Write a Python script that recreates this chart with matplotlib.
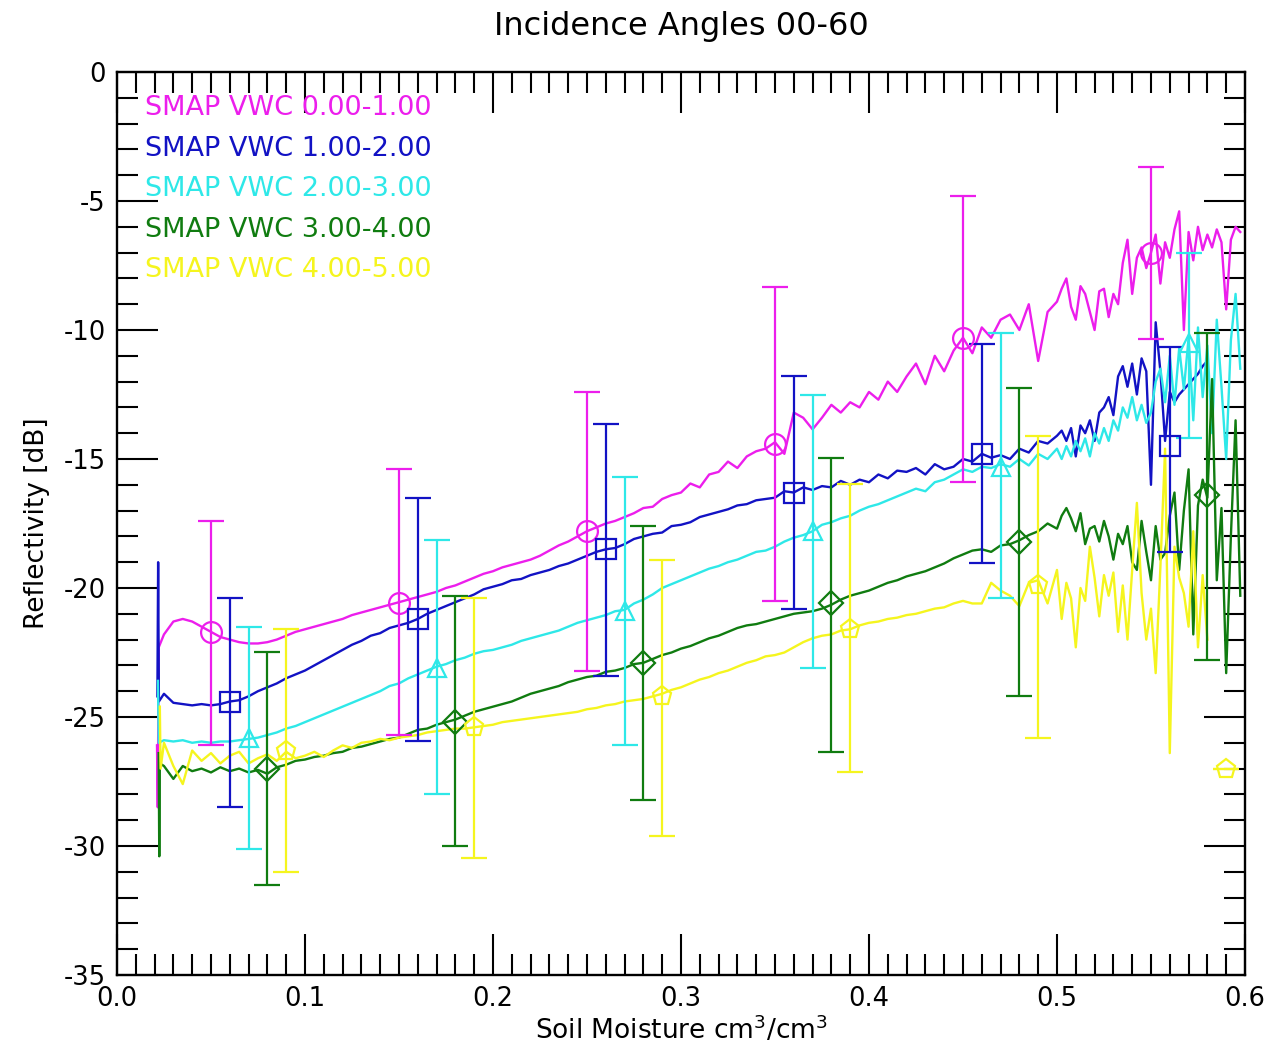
import numpy as np
import matplotlib
matplotlib.use("Agg")
import matplotlib.pyplot as plt
from matplotlib.ticker import MultipleLocator

plt.rcParams['font.family'] = ['DejaVu Sans']
plt.rcParams['axes.unicode_minus'] = False

# soil moisture sample positions: 0.005 steps up to 0.495, then 0.0025 steps
sm_coarse = 0.025 + 0.005 * np.arange(95)
sm_fine = 0.5 + 0.0025 * np.arange(40)

# --- VWC 0-1 (magenta) ---
mag_head_x = [0.0213, 0.0217, 0.0222]
mag_head_y = [-26.1, -28.5, -22.3]
mag_dry = [-21.8, -21.3, -21.2, -21.3, -21.5, -21.7, -21.9, -22.0, -22.1, -22.15,
           -22.15, -22.1, -22.0, -21.85, -21.7, -21.6, -21.5, -21.4, -21.3, -21.2,
           -21.05, -20.95, -20.85, -20.75, -20.65, -20.55, -20.45, -20.35, -20.25, -20.15,
           -20.0, -19.9, -19.75, -19.6, -19.45, -19.35, -19.2, -19.1, -19.0, -18.9,
           -18.75, -18.55, -18.35, -18.2, -18.0, -17.8, -17.65, -17.5, -17.4, -17.25,
           -17.1, -16.9, -16.85, -16.55, -16.4, -16.3, -15.95, -16.1, -15.6, -15.5,
           -15.1, -15.35, -14.9, -14.7, -14.6, -14.35, -14.8, -13.2, -13.4, -13.85,
           -13.4, -12.9, -13.2, -12.8, -13.0, -12.4, -12.7, -12.0, -12.4, -11.8,
           -11.3, -12.1, -11.0, -11.6, -10.8, -10.3, -10.9, -9.9, -10.3, -9.6,
           -9.4, -10.0, -9.0, -11.2, -9.3]
mag_wet = [-8.9, -8.4, -8.0, -9.1, -9.6, -8.3, -8.6, -9.3, -10.0, -8.5,
           -8.4, -9.5, -8.6, -9.0, -7.4, -6.5, -8.6, -7.2, -6.8, -7.6,
           -7.0, -6.3, -8.2, -6.6, -7.2, -6.1, -5.4, -10.0, -6.2, -7.3,
           -6.0, -6.9, -6.3, -6.8, -6.1, -6.6, -9.2, -6.5, -6.0, -6.2]

# --- VWC 1-2 (blue) ---
blu_head_x = [0.0215, 0.0219, 0.0223]
blu_head_y = [-24.2, -19.0, -24.4]
blu_dry = [-24.1, -24.45, -24.5, -24.55, -24.5, -24.55, -24.5, -24.4, -24.35, -24.2,
           -24.0, -23.85, -23.7, -23.5, -23.35, -23.2, -23.0, -22.8, -22.6, -22.4,
           -22.2, -22.05, -21.85, -21.75, -21.55, -21.45, -21.35, -21.2, -21.0, -20.85,
           -20.7, -20.55, -20.4, -20.25, -20.05, -19.95, -19.85, -19.7, -19.65, -19.5,
           -19.4, -19.3, -19.15, -19.05, -18.9, -18.75, -18.6, -18.5, -18.45, -18.3,
           -18.1, -18.0, -17.9, -17.85, -17.6, -17.55, -17.45, -17.25, -17.15, -17.05,
           -16.95, -16.8, -16.75, -16.6, -16.55, -16.5, -16.25, -16.3, -16.1, -16.2,
           -16.05, -16.1, -15.85, -16.0, -15.8, -15.9, -15.6, -15.75, -15.45, -15.5,
           -15.35, -15.6, -15.2, -15.4, -15.3, -15.0, -15.1, -14.8, -14.95, -14.85,
           -15.0, -14.6, -14.75, -14.3, -14.4]
blu_wet = [-14.1, -13.9, -14.3, -13.8, -14.9, -13.7, -14.0, -13.5, -14.3, -13.2,
           -13.0, -12.6, -13.3, -11.8, -11.4, -12.2, -11.3, -12.5, -11.1, -11.6,
           -16.0, -9.7, -11.6, -14.3, -12.4, -12.8, -12.5, -12.3, -12.1, -11.9,
           -11.7, -11.4, -11.2, np.nan, np.nan, np.nan, np.nan, np.nan, np.nan, np.nan]

# --- VWC 2-3 (cyan) ---
cya_head_x = [0.0218, 0.0222]
cya_head_y = [-23.6, -26.0]
cya_dry = [-25.9, -25.95, -25.9, -26.0, -25.95, -26.0, -25.95, -25.95, -25.9, -25.85,
           -25.8, -25.7, -25.6, -25.45, -25.35, -25.2, -25.05, -24.9, -24.75, -24.6,
           -24.45, -24.3, -24.15, -24.0, -23.8, -23.7, -23.5, -23.35, -23.2, -23.05,
           -22.95, -22.8, -22.7, -22.55, -22.45, -22.4, -22.3, -22.2, -22.05, -21.95,
           -21.85, -21.75, -21.65, -21.5, -21.35, -21.25, -21.15, -21.05, -20.9, -20.85,
           -20.6, -20.45, -20.25, -20.0, -19.85, -19.7, -19.55, -19.4, -19.25, -19.15,
           -19.0, -18.9, -18.75, -18.6, -18.55, -18.4, -18.2, -18.05, -17.95, -17.8,
           -17.55, -17.45, -17.3, -17.2, -17.0, -16.85, -16.75, -16.6, -16.45, -16.3,
           -16.15, -16.25, -15.9, -15.8, -15.6, -15.4, -15.5, -15.3, -15.35, -15.2,
           -15.3, -15.0, -15.25, -14.8, -15.0]
cya_wet = [-14.6, -15.0, -14.5, -14.9, -14.3, -14.7, -14.2, -14.9, -14.0, -14.4,
           -13.8, -14.3, -13.5, -13.9, -13.0, -13.4, -12.6, -13.5, -12.9, -13.6,
           -13.2, -12.0, -11.5, -12.8, -11.0, -12.9, -10.7, -12.3, -10.3, -13.5,
           -9.9, -12.6, -10.6, -14.0, -9.6, -12.2, -15.0, -10.4, -8.6, -11.5]

# --- VWC 3-4 (green) ---
grn_head_x = [0.0222, 0.0225, 0.0228]
grn_head_y = [-26.4, -30.4, -26.8]
grn_dry = [-26.9, -27.4, -26.9, -27.1, -27.0, -27.15, -26.95, -27.1, -27.0, -27.15,
           -27.05, -27.2, -26.95, -26.85, -26.7, -26.65, -26.55, -26.5, -26.4, -26.35,
           -26.2, -26.15, -26.05, -25.95, -25.85, -25.8, -25.65, -25.5, -25.45, -25.3,
           -25.2, -25.1, -24.95, -24.8, -24.7, -24.6, -24.5, -24.4, -24.25, -24.1,
           -24.0, -23.9, -23.8, -23.65, -23.55, -23.45, -23.4, -23.25, -23.2, -23.1,
           -22.95, -22.9, -22.75, -22.6, -22.5, -22.35, -22.25, -22.1, -21.95, -21.85,
           -21.7, -21.55, -21.45, -21.4, -21.3, -21.2, -21.1, -21.0, -20.95, -20.9,
           -20.8, -20.65, -20.45, -20.3, -20.2, -20.1, -19.95, -19.8, -19.7, -19.55,
           -19.45, -19.35, -19.2, -19.05, -18.85, -18.7, -18.55, -18.5, -18.6, -18.35,
           -18.3, -18.15, -17.95, -17.8, -17.5]
grn_wet = [-17.7, -17.2, -16.9, -17.3, -17.8, -17.1, -18.3, -17.7, -17.6, -18.2,
           -17.4, -18.0, -18.9, -17.9, -18.3, -17.6, -19.0, -19.3, -17.4, -18.6,
           -19.7, -17.6, -18.9, -18.65, -17.2, -16.3, -19.3, -17.0, -15.4, -21.8,
           -16.8, -15.8, -16.5, -11.9, -19.7, -16.9, -23.3, -18.0, -13.5, -20.3]

# --- VWC 4-5 (yellow) ---
yel_head_x = [0.0228, 0.0232]
yel_head_y = [-24.6, -27.0]
yel_dry = [-26.0, -26.9, -27.6, -26.3, -26.7, -26.4, -26.8, -26.5, -26.35, -26.8,
           -26.6, -26.45, -26.7, -26.35, -26.6, -26.5, -26.35, -26.55, -26.3, -26.1,
           -26.2, -26.0, -25.95, -25.85, -25.9, -25.8, -25.75, -25.7, -25.6, -25.55,
           -25.5, -25.45, -25.45, -25.4, -25.35, -25.3, -25.2, -25.15, -25.1, -25.05,
           -25.0, -24.95, -24.9, -24.85, -24.8, -24.7, -24.65, -24.55, -24.5, -24.4,
           -24.35, -24.3, -24.2, -24.1, -23.95, -23.85, -23.7, -23.55, -23.45, -23.3,
           -23.2, -23.05, -22.9, -22.8, -22.65, -22.6, -22.5, -22.3, -22.1, -21.95,
           -21.85, -21.8, -21.65, -21.6, -21.45, -21.35, -21.3, -21.2, -21.15, -21.05,
           -21.0, -20.9, -20.8, -20.75, -20.6, -20.5, -20.6, -20.6, -19.8, -20.1,
           -20.3, -20.7, -19.8, -19.7, -20.6]
yel_wet = [-19.3, -21.2, -19.8, -20.4, -22.3, -20.0, -20.5, -18.4, -19.6, -21.1,
           -19.5, -20.3, -19.4, -21.7, -19.9, -22.0, -19.3, -16.7, -20.2, -22.0,
           -20.8, -23.3, -19.2, -14.6, -26.4, -18.4, -19.6, -20.2, -21.5, -17.8,
           -22.3, -19.5, -22.0, np.nan, np.nan, np.nan, np.nan, np.nan, np.nan, np.nan]

# binned means with error bar extents
mag_bx = [0.05, 0.15, 0.25, 0.35, 0.45, 0.55]
mag_by = [-21.7, -20.6, -17.8, -14.4, -10.3, -7.0]
mag_top = [-17.4, -15.4, -12.4, -8.35, -4.8, -3.7]
mag_bot = [-26.1, -25.7, -23.2, -20.5, -15.9, -10.35]

blu_bx = [0.06, 0.16, 0.26, 0.36, 0.46, 0.56]
blu_by = [-24.4, -21.2, -18.5, -16.3, -14.8, -14.5]
blu_top = [-20.4, -16.5, -13.65, -11.8, -10.55, -10.65]
blu_bot = [-28.5, -25.95, -23.4, -20.8, -19.05, -18.6]

cya_bx = [0.07, 0.17, 0.27, 0.37, 0.47, 0.57]
cya_by = [-25.8, -23.1, -20.9, -17.8, -15.3, -10.5]
cya_top = [-21.5, -18.15, -15.7, -12.5, -10.1, -7.0]
cya_bot = [-30.1, -28.0, -26.1, -23.1, -20.4, -14.2]

grn_bx = [0.08, 0.18, 0.28, 0.38, 0.48, 0.58]
grn_by = [-27.0, -25.2, -22.9, -20.6, -18.2, -16.4]
grn_top = [-22.5, -20.3, -17.6, -14.95, -12.25, -10.1]
grn_bot = [-31.5, -30.0, -28.2, -26.35, -24.2, -22.8]

yel_bx = [0.09, 0.19, 0.29, 0.39, 0.49, 0.59]
yel_by = [-26.3, -25.4, -24.2, -21.6, -19.9, -27.0]
yel_top = [-21.6, -20.4, -18.9, -15.95, -14.1, -27.0]
yel_bot = [-31.0, -30.45, -29.6, -27.15, -25.8, -27.0]

labels = ['SMAP VWC 0.00-1.00', 'SMAP VWC 1.00-2.00', 'SMAP VWC 2.00-3.00',
          'SMAP VWC 3.00-4.00', 'SMAP VWC 4.00-5.00']
colors = ['#ec1eec', '#1212c4', '#2ee8e8', '#107c10', '#f5f51e']
markers = ['o', 's', '^', 'D', 'p']
msizes = [15, 14, 13, 12, 14]

series = [
    (mag_head_x, mag_head_y, mag_dry, mag_wet, mag_bx, mag_by, mag_top, mag_bot),
    (blu_head_x, blu_head_y, blu_dry, blu_wet, blu_bx, blu_by, blu_top, blu_bot),
    (cya_head_x, cya_head_y, cya_dry, cya_wet, cya_bx, cya_by, cya_top, cya_bot),
    (grn_head_x, grn_head_y, grn_dry, grn_wet, grn_bx, grn_by, grn_top, grn_bot),
    (yel_head_x, yel_head_y, yel_dry, yel_wet, yel_bx, yel_by, yel_top, yel_bot),
]

fig = plt.figure(figsize=(12.7, 10.47), dpi=100)
ax = fig.add_axes([0.0921, 0.0688, 0.8882, 0.8624])

for (hx, hy, dry, wet, bx, by, top, bot), c, m, ms in zip(series, colors, markers, msizes):
    x = np.concatenate([hx, sm_coarse, sm_fine])
    y = np.concatenate([hy, dry, wet])
    ax.plot(x, y, color=c, lw=1.7, zorder=2)
    by = np.array(by)
    yerr = [by - np.array(bot), np.array(top) - by]
    ax.errorbar(bx, by, yerr=yerr, fmt=m, color=c, mfc='none', mec=c, ms=ms,
                mew=1.6, elinewidth=1.6, capsize=9.5, capthick=1.6, zorder=3)

ax.set_xlim(0.0, 0.6)
ax.set_ylim(-35, 0)
ax.xaxis.set_major_locator(MultipleLocator(0.1))
ax.xaxis.set_minor_locator(MultipleLocator(0.01))
ax.yaxis.set_major_locator(MultipleLocator(5))
ax.yaxis.set_minor_locator(MultipleLocator(1))
ax.xaxis.set_major_formatter(plt.FormatStrFormatter('%.1f'))
ax.tick_params(which='both', direction='in', top=True, right=True, width=1.5,
               labelsize=18.5)
ax.tick_params(which='major', length=29.5)
ax.tick_params(which='minor', length=15)
ax.tick_params(axis='x', pad=8)
ax.tick_params(axis='y', pad=8)
for s in ax.spines.values():
    s.set_linewidth(1.7)

for i, (lab, c) in enumerate(zip(labels, colors)):
    ax.text(0.025, 0.960 - i * 0.0449, lab, color=c, fontsize=19.5,
            transform=ax.transAxes, va='center', ha='left')

ax.set_title('Incidence Angles 00-60', fontsize=23, pad=27)
ax.set_xlabel('Soil Moisture cm$^3$/cm$^3$', fontsize=19, labelpad=2)
ax.set_ylabel('Reflectivity [dB]', fontsize=19, labelpad=10)

fig.savefig('out.png', dpi=100)
